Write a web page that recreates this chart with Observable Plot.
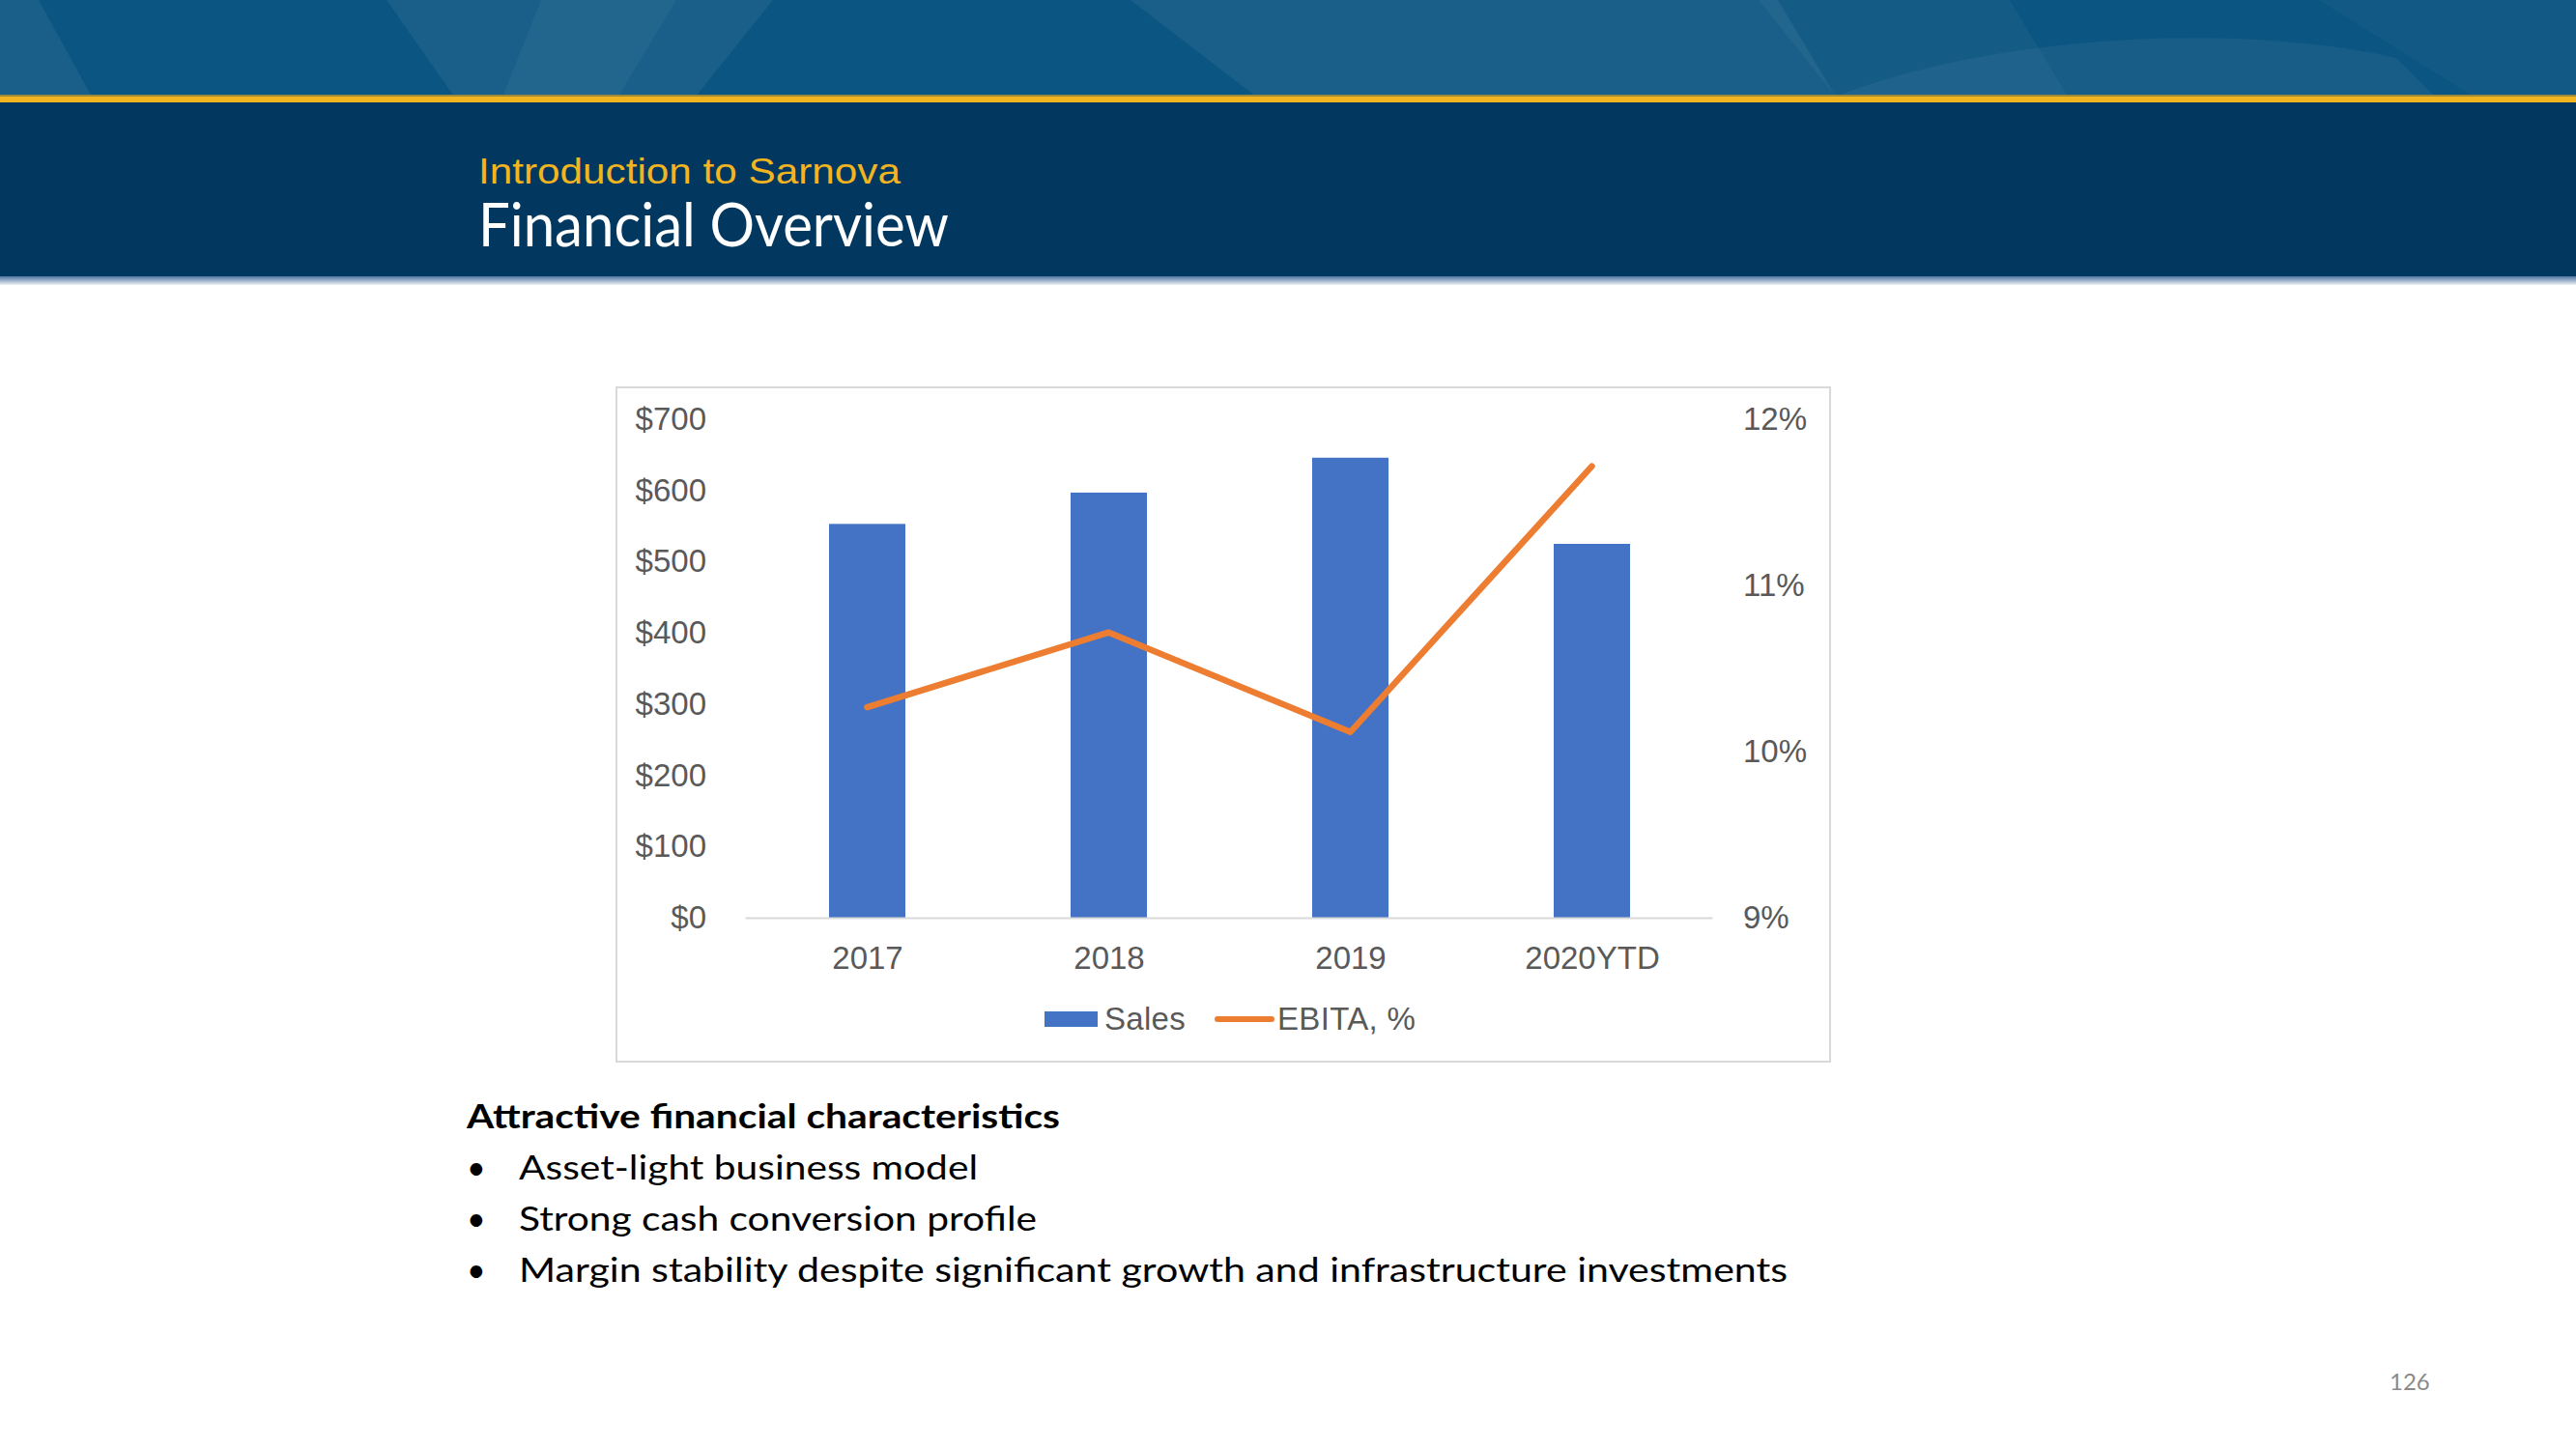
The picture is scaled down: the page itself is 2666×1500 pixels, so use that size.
<!DOCTYPE html>
<html>
<head>
<meta charset="utf-8">
<script src="https://cdn.jsdelivr.net/npm/d3@7"></script>
<script src="https://cdn.jsdelivr.net/npm/@observablehq/plot@0.6"></script>
<style>
  html, body { margin: 0; padding: 0; background: #fff; }
  body { width: 2666px; height: 1500px; position: relative; overflow: hidden; }
  #page { position: absolute; left: 0; top: 0; }
  #frame { position: absolute; left: 637px; top: 400px; width: 1258px; height: 700px;
           box-sizing: border-box; border: 2px solid #d9d9d9; background: #fff; }
  .chart { position: absolute; left: 638px; top: 402px; }
  #legend { position: absolute; left: 1081px; top: 1033px; height: 44px; display: flex; align-items: center;
            font-family: "Liberation Sans", Arial, sans-serif;
            font-size: 33px; color: #595959; letter-spacing: 0.3px; }
  #legend .item { display: flex; align-items: center; }
</style>
</head>
<body>
<svg id="page" width="2666" height="1500" xmlns="http://www.w3.org/2000/svg">
  <defs>
    <linearGradient id="shade" x1="0" y1="0" x2="0" y2="1">
      <stop offset="0" stop-color="#4f76a2"/>
      <stop offset="0.5" stop-color="#9db2cb"/>
      <stop offset="1" stop-color="#eef2f7"/>
    </linearGradient>
  </defs>
  <!-- decorative top band -->
  <rect x="0" y="0" width="2666" height="100" fill="#0b5582"/>
  <g fill="#ffffff">
    <polygon points="0,0 40,0 95,100 0,100" opacity="0.06"/>
    <polygon points="400,0 800,0 720,100 470,100" opacity="0.06"/>
    <polygon points="560,0 700,0 640,100 520,100" opacity="0.04"/>
    <polygon points="1170,0 1840,0 1900,100 1300,100" opacity="0.06"/>
    <polygon points="1820,0 2080,0 2140,100 1900,100" opacity="0.04"/>
    <path d="M1900,100 C2050,40 2300,20 2480,60 L2520,100 Z" opacity="0.05"/>
    <path d="M2400,0 L2666,0 L2666,100 L2560,100 Z" opacity="0.03"/>
  </g>
  <rect x="0" y="98" width="2666" height="2" fill="#9c8a3a"/>
  <rect x="0" y="100" width="2666" height="6" fill="#f2b41f"/>
  <rect x="0" y="106" width="2666" height="180" fill="#02385f"/>
  <rect x="0" y="286" width="2666" height="9" fill="url(#shade)"/>
  <text x="495" y="190" font-family="'Liberation Sans', Arial, sans-serif" font-size="37" fill="#f2b41f" textLength="437" lengthAdjust="spacingAndGlyphs">Introduction to Sarnova</text>
  <text x="495" y="255" font-family="Lato, 'Open Sans', sans-serif" font-size="61" fill="#ffffff" textLength="487" lengthAdjust="spacingAndGlyphs">Financial Overview</text>

  <!-- body text -->
  <g font-family="Lato, 'Open Sans', sans-serif" fill="#000000">
    <text x="483" y="1168" font-size="34" font-weight="bold" textLength="614" lengthAdjust="spacingAndGlyphs">Attractive financial characteristics</text>
    <text x="483" y="1221" font-size="34">•</text>
    <text x="537" y="1221" font-size="34" textLength="475" lengthAdjust="spacingAndGlyphs">Asset-light business model</text>
    <text x="483" y="1274" font-size="34">•</text>
    <text x="537" y="1274" font-size="34" textLength="536" lengthAdjust="spacingAndGlyphs">Strong cash conversion profile</text>
    <text x="483" y="1327" font-size="34">•</text>
    <text x="537" y="1327" font-size="34" textLength="1313" lengthAdjust="spacingAndGlyphs">Margin stability despite significant growth and infrastructure investments</text>
  </g>
  <text x="2473" y="1439" font-family="Lato, 'Open Sans', sans-serif" font-size="24" fill="#8a8a8a">126</text>
</svg>

<div id="frame"></div>
<div id="bars" class="chart"></div>
<div id="line" class="chart"></div>
<div id="legend"></div>

<script>
// ---- data ----
const years = ["2017", "2018", "2019", "2020YTD"];
const sales = [553, 597, 646, 525];          // $M
const ebita = [10.27, 10.72, 10.12, 11.72];  // %
const salesTicks = [0, 100, 200, 300, 400, 500, 600, 700];
const ebitaTicks = [9, 10, 11, 12];
const seriesNames = ["Sales", "EBITA, %"];
const seriesColors = ["#4472c4", "#ed7d31"];

const data = years.map((y, i) => ({year: y, sales: sales[i], ebita: ebita[i]}));

const common = {
  width: 1256, height: 620,
  marginLeft: 133.5, marginRight: 121.5, marginTop: 32, marginBottom: 72,
  style: {
    background: "transparent",
    color: "#595959",
    fontFamily: '"Liberation Sans", Arial, sans-serif',
    fontSize: "33px",
    overflow: "visible"
  }
};

const barsPlot = Plot.plot({
  ...common,
  x: {type: "band", domain: years, paddingInner: 0.684, paddingOuter: 0.342, label: null, tickSize: 0, tickPadding: 29},
  y: {domain: [0, 700], ticks: salesTicks, tickFormat: d => "$" + d, label: null, tickSize: 0, tickPadding: 41},
  marks: [
    Plot.barY(data, {x: "year", y: "sales", fill: seriesColors[0]}),
    Plot.ruleY([0], {stroke: "#d9d9d9", strokeWidth: 2})
  ]
});
document.getElementById("bars").appendChild(barsPlot);

const linePlot = Plot.plot({
  ...common,
  x: {type: "point", domain: years, padding: 0.5, axis: null},
  y: {domain: [9, 12], ticks: ebitaTicks, tickFormat: d => d + "%", axis: "right", label: null, tickSize: 0, tickPadding: 31},
  marks: [
    Plot.line(data, {x: "year", y: "ebita", stroke: seriesColors[1], strokeWidth: 6.5,
                     strokeLinecap: "round", strokeLinejoin: "round"})
  ]
});
document.getElementById("line").appendChild(linePlot);

// ---- legend ----
const legend = document.getElementById("legend");
seriesNames.forEach((name, i) => {
  const item = document.createElement("div");
  item.className = "item";
  if (i === 0) {
    item.style.marginRight = "30px";
    item.innerHTML = `<span style="display:inline-block;width:55px;height:16px;background:${seriesColors[0]};margin-right:7px"></span><span>${name}</span>`;
  } else {
    item.innerHTML = `<svg width="62" height="10" style="margin-right:3px"><line x1="3" y1="5" x2="59" y2="5" stroke="${seriesColors[1]}" stroke-width="6" stroke-linecap="round"/></svg><span>${name}</span>`;
  }
  legend.appendChild(item);
});
</script>
</body>
</html>
